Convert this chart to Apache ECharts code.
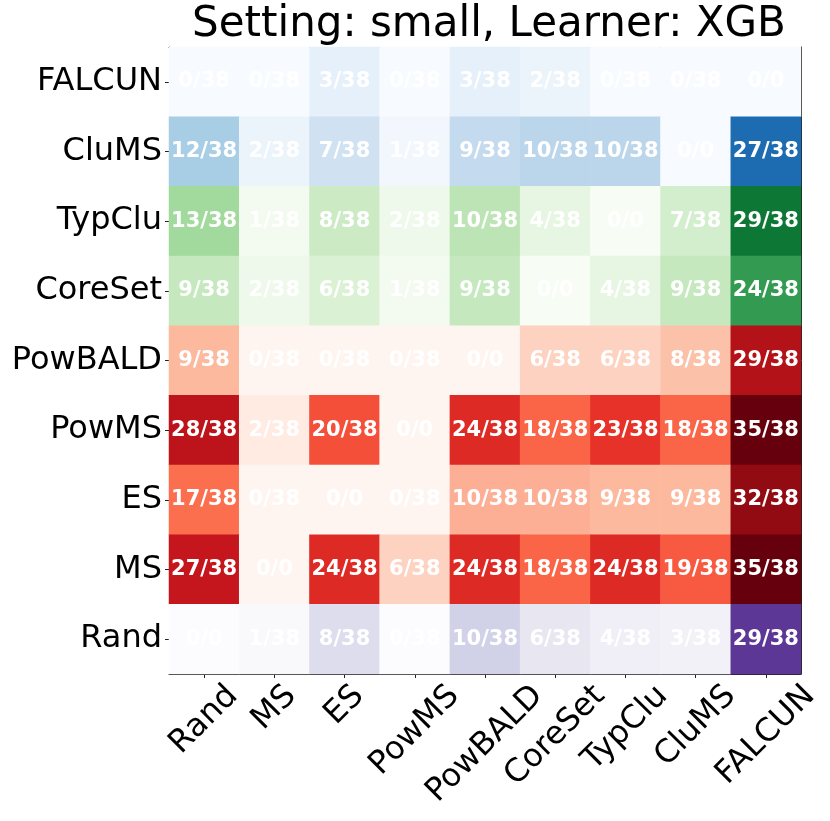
<!DOCTYPE html>
<html>
<head>
<meta charset="utf-8">
<script src="https://cdn.jsdelivr.net/npm/echarts@6/dist/echarts.min.js"></script>
<style>
    html, body { margin: 0; padding: 0; background: #fff; }
    #chart { width: 830px; height: 821px; }
</style>
</head>
<body>
<div id="chart"></div>
<script>
// rows top to bottom, columns left to right
var rowNames = ['FALCUN', 'CluMS', 'TypClu', 'CoreSet', 'PowBALD', 'PowMS', 'ES', 'MS', 'Rand'];
var colNames = ['Rand', 'MS', 'ES', 'PowMS', 'PowBALD', 'CoreSet', 'TypClu', 'CluMS', 'FALCUN'];
var rowPalette = ['Blues', 'Blues', 'Greens', 'Greens', 'Reds', 'Reds', 'Reds', 'Reds', 'Purples'];

// wins of row method against column method (out of totalRuns)
var winsFALCUN  = [0, 0, 3, 0, 3, 2, 0, 0, 0];
var winsCluMS   = [12, 2, 7, 1, 9, 10, 10, 0, 27];
var winsTypClu  = [13, 1, 8, 2, 10, 4, 0, 7, 29];
var winsCoreSet = [9, 2, 6, 1, 9, 0, 4, 9, 24];
var winsPowBALD = [9, 0, 0, 0, 0, 6, 6, 8, 29];
var winsPowMS   = [28, 2, 20, 0, 24, 18, 23, 18, 35];
var winsES      = [17, 0, 0, 0, 10, 10, 9, 9, 32];
var winsMS      = [27, 0, 24, 6, 24, 18, 24, 19, 35];
var winsRand    = [0, 1, 8, 0, 10, 6, 4, 3, 29];
var wins = [winsFALCUN, winsCluMS, winsTypClu, winsCoreSet, winsPowBALD, winsPowMS, winsES, winsMS, winsRand];

var totalRuns = 38;
var colorMax = 35;

// matplotlib sequential maps (colorbrewer 9 steps)
var palettes = {
    Blues:   ['#f7fbff', '#deebf7', '#c6dbef', '#9ecae1', '#6baed6', '#4292c6', '#2171b5', '#08519c', '#08306b'],
    Greens:  ['#f7fcf5', '#e5f5e0', '#c7e9c0', '#a1d99b', '#74c476', '#41ab5d', '#238b45', '#006d2c', '#00441b'],
    Reds:    ['#fff5f0', '#fee0d2', '#fcbba1', '#fc9272', '#fb6a4a', '#ef3b2c', '#cb181d', '#a50f15', '#67000d'],
    Purples: ['#fcfbfd', '#efedf5', '#dadaeb', '#bcbddc', '#9e9ac8', '#807dba', '#6a51a3', '#54278f', '#3f007d']
};
var paletteOrder = ['Blues', 'Greens', 'Reds', 'Purples'];

var font = '"DejaVu Sans", sans-serif';

// rotated x labels hang centred under the tick like matplotlib does:
// padding on top and right moves each one straight down by ~0.35*its length
var measureCtx = document.createElement('canvas').getContext('2d');
measureCtx.font = '32px "DejaVu Sans"';
var xRich = {};
colNames.forEach(function (name, i) {
    var len = measureCtx.measureText(name).width;
    xRich['c' + i] = {
        fontFamily: font,
        fontSize: 32,
        color: '#000',
        padding: [len / 2, len / 2, 0, 0]
    };
});

function cellLabel(p) {
    var c = p.data[0], r = p.data[1];
    if (rowNames[r] === colNames[c]) {
        return '0/0';
    }
    return p.data[2] + '/' + totalRuns;
}

var series = [], visualMaps = [];
paletteOrder.forEach(function (name, si) {
    var data = [];
    wins.forEach(function (row, r) {
        if (rowPalette[r] !== name) return;
        row.forEach(function (v, c) {
            data.push([c, r, v]);
        });
    });
    series.push({
        type: 'heatmap',
        data: data,
        label: {
            show: true,
            formatter: cellLabel,
            color: '#fff',
            fontFamily: font,
            fontWeight: 'bold',
            fontSize: 21
        },
        emphasis: { disabled: true }
    });
    visualMaps.push({
        type: 'continuous',
        show: false,
        seriesIndex: si,
        dimension: 2,
        min: 0,
        max: colorMax,
        inRange: { color: palettes[name] }
    });
});

var frameLine = { show: true, lineStyle: { color: '#222', width: 1 } };

var option = {
    backgroundColor: '#fff',
    animation: false,
    title: {
        text: 'Setting: small, Learner: XGB',
        left: 484,
        top: -1,
        textAlign: 'center',
        textStyle: { fontFamily: font, fontWeight: 'normal', fontSize: 42, color: '#000' }
    },
    grid: { left: 169, right: 29, top: 47, bottom: 147, outerBoundsMode: 'none' },
    visualMap: visualMaps,
    xAxis: [{
        type: 'category',
        data: colNames,
        position: 'bottom',
        axisLine: frameLine,
        axisTick: { show: true, alignWithLabel: true, length: 4, lineStyle: { color: '#222' } },
        axisLabel: {
            interval: 0,
            rotate: 45,
            align: 'center',
            verticalAlign: 'middle',
            margin: 17,
            hideOverlap: false,
            fontFamily: font,
            fontSize: 32,
            color: '#000',
            formatter: function (value, idx) {
                return '{c' + idx + '|' + value + '}';
            },
            rich: xRich
        },
        splitLine: { show: false }
    }, {
        type: 'category',
        data: colNames,
        position: 'top',
        axisLine: frameLine,
        axisTick: { show: false },
        axisLabel: { show: false }
    }],
    yAxis: [{
        type: 'category',
        data: rowNames,
        inverse: true,
        position: 'left',
        axisLine: frameLine,
        axisTick: { show: true, alignWithLabel: true, length: 4, lineStyle: { color: '#222' } },
        axisLabel: {
            interval: 0,
            margin: 7,
            fontFamily: font,
            fontSize: 32,
            color: '#000'
        },
        splitLine: { show: false }
    }, {
        type: 'category',
        data: rowNames,
        inverse: true,
        position: 'right',
        axisLine: frameLine,
        axisTick: { show: false },
        axisLabel: { show: false }
    }],
    series: series
};

var chart = echarts.init(document.getElementById('chart'));
chart.setOption(option);
</script>
</body>
</html>
